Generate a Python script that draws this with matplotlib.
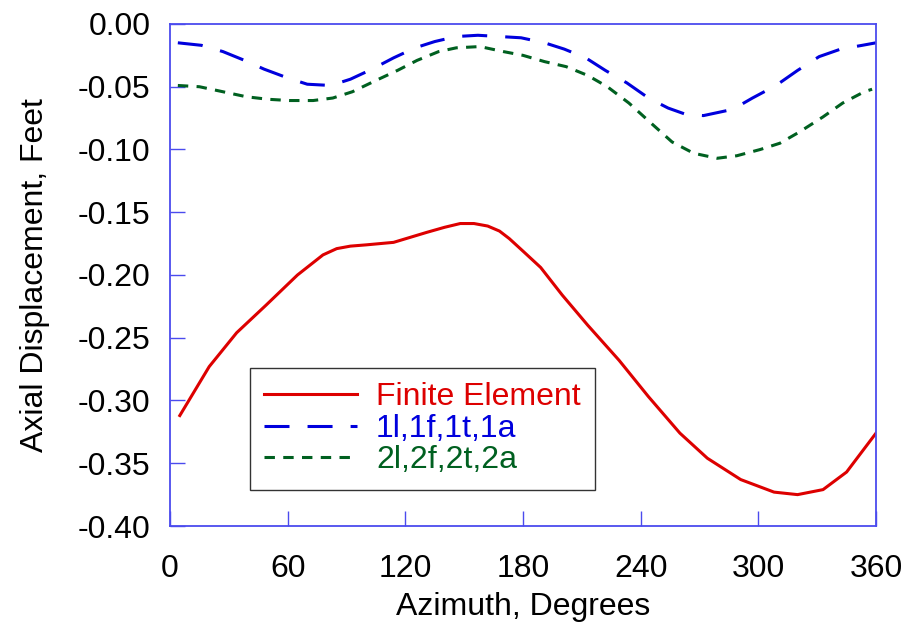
import matplotlib
matplotlib.use('Agg')
import matplotlib.pyplot as plt

plt.rcParams['font.family'] = ['Liberation Sans', 'DejaVu Sans']
plt.rcParams['lines.scale_dashes'] = False

# Finite Element
x_fe = [5, 20, 34, 49, 65, 78, 85, 92, 100, 114, 131, 140, 148, 155, 162,
        168, 173, 180, 189, 200, 213, 229, 244, 260, 274, 291, 308, 320, 333,
        345, 360]
y_fe = [-0.312, -0.273, -0.246, -0.224, -0.200, -0.184, -0.179, -0.177, -0.176,
        -0.174, -0.166, -0.162, -0.159, -0.159, -0.161, -0.165, -0.171, -0.181,
        -0.194, -0.216, -0.240, -0.268, -0.297, -0.326, -0.346, -0.363, -0.373,
        -0.375, -0.371, -0.357, -0.326]

# 1l,1f,1t,1a
x_1 = [4, 16, 27, 38, 48, 60, 70, 82, 92, 103, 114, 125, 135, 146, 157, 168,
       179, 191, 201, 212, 222, 233, 244, 254, 263, 272, 287, 297, 309, 320,
       331, 342, 353, 360]
y_1 = [-0.015, -0.017, -0.022, -0.029, -0.036, -0.043, -0.048, -0.049, -0.044,
       -0.036, -0.027, -0.019, -0.014, -0.010, -0.009, -0.010, -0.011, -0.015,
       -0.020, -0.027, -0.037, -0.047, -0.059, -0.067, -0.072, -0.073, -0.068,
       -0.059, -0.049, -0.037, -0.026, -0.020, -0.017, -0.015]

# 2l,2f,2t,2a
x_2 = [4, 15, 27, 39, 50, 61, 73, 83, 93, 105, 116, 126, 137, 146, 158, 170,
       180, 191, 202, 213, 223, 234, 246, 256, 267, 279, 289, 301, 311, 321,
       333, 343, 354, 358]
y_2 = [-0.049, -0.050, -0.054, -0.058, -0.060, -0.061, -0.061, -0.059, -0.054,
       -0.045, -0.037, -0.029, -0.022, -0.019, -0.018, -0.022, -0.025, -0.030,
       -0.034, -0.041, -0.050, -0.063, -0.080, -0.094, -0.103, -0.107, -0.105,
       -0.100, -0.095, -0.086, -0.074, -0.063, -0.054, -0.052]

red = '#dd0000'
blue = '#0000dd'
green = '#006020'
axis_blue = '#4b4bee'

fig = plt.figure(figsize=(9.11, 6.31), dpi=100)
ax = fig.add_axes([0.1866, 0.1664, 0.775, 0.7956])

ax.plot(x_fe, y_fe, color=red, lw=2.2, label='Finite Element',
        solid_joinstyle='round')
ax.plot(x_1, y_1, color=blue, lw=2.2, dashes=(18, 13), label='1l,1f,1t,1a')
ax.plot(x_2, y_2, color=green, lw=2.2, dashes=(7.5, 6), label='2l,2f,2t,2a')

ax.set_xlim(0, 360)
ax.set_ylim(-0.40, 0.0)
ax.set_xticks([0, 60, 120, 180, 240, 300, 360])
ax.set_yticks([-0.40, -0.35, -0.30, -0.25, -0.20, -0.15, -0.10, -0.05, 0.00])
ax.set_yticklabels(['%.2f' % v for v in ax.get_yticks()])

for s in ax.spines.values():
    s.set_color(axis_blue)
    s.set_linewidth(1.3)
ax.tick_params(direction='in', length=11, width=1, color=axis_blue,
               labelsize=23, pad=14)
ax.tick_params(axis='x', pad=20)

ax.set_xlabel('Azimuth, Degrees', fontsize=23, labelpad=6)
ax.set_ylabel('Axial Displacement, Feet', fontsize=23, labelpad=20)

leg = ax.legend(loc='lower left', bbox_to_anchor=(0.113, 0.072), fontsize=23,
                frameon=True, fancybox=False, handlelength=2.9,
                handletextpad=0.6, labelspacing=0.05, borderpad=0.45,
                borderaxespad=0)
leg.get_frame().set_edgecolor('black')
leg.get_frame().set_linewidth(1.0)
for txt, c in zip(leg.get_texts(), [red, blue, green]):
    txt.set_color(c)

fig.savefig('out.png', dpi=100)
